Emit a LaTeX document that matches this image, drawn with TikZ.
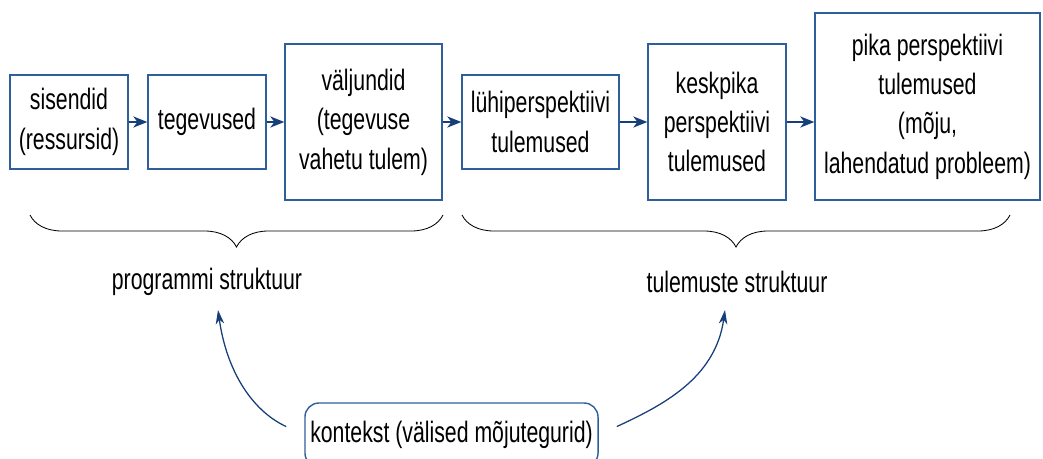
\documentclass[tikz,border=0pt]{standalone}
\usepackage{fontspec}
\setmainfont{Liberation Sans}[FakeStretch=0.72]
\usetikzlibrary{arrows.meta,decorations.pathreplacing}
\definecolor{boxblue}{RGB}{46,95,155}
\definecolor{arrowblue}{RGB}{22,62,120}
\begin{document}
\begin{tikzpicture}[
    x=0.025cm, y=-0.025cm,
    every node/.style={font=\fontsize{21}{28}\selectfont},
    box/.style={draw=boxblue, line width=1pt, align=center, inner sep=2pt},
    flow/.style={draw=arrowblue, line width=1pt, -{Stealth[length=10pt,width=8pt,inset=3pt]}},
    push/.style={draw=arrowblue, line width=0.9pt, -{Stealth[length=10pt,width=6pt,inset=3pt]}},
    sbrace/.style={decorate, decoration={brace, mirror, amplitude=0.8cm}, line width=0.6pt}
    ]
	\useasboundingbox (0,0) rectangle (1043,459);
	\clip (0,0) rectangle (1043,459);
	% program chain
	\node [box, minimum width=2.95cm, minimum height=2.35cm] (input) at (69,122) {sisendid\\(ressursid)};
	\node [box, minimum width=2.95cm, minimum height=2.35cm] (activ) at (207,122) {tegevused};
	\node [box, minimum width=3.925cm, minimum height=3.9cm] (output) at (363.5,122) {väljundid\\(tegevuse\\vahetu tulem)};
	% outcome chain
	\node [box, minimum width=3.925cm, minimum height=2.35cm] (short) at (540.5,122) {lühiperspektiivi\\tulemused};
	\node [box, minimum width=3.45cm, minimum height=3.9cm] (mid) at (717,122) {keskpika\\perspektiivi\\tulemused};
	\node [box, minimum width=5.625cm, minimum height=4.675cm] (long) at (927.5,106.5) {pika perspektiivi\\tulemused\\(mõju,\\lahendatud probleem)};
	\draw [flow] (input) -- (activ);
	\draw [flow] (activ) -- (output);
	\draw [flow] (output) -- (short);
	\draw [flow] (short) -- (mid);
	\draw [flow] (mid.east) -- (long.west |- mid.east);
	% braces
	\draw [sbrace] (30,215) -- (443,215);
	\draw [sbrace] (462,215) -- (1010,215);
	\node (prog) at (207,282) {programmi struktuur};
	\node (outc) at (737,282) {tulemuste struktuur};
	% context
	\node [box, rounded corners=10pt, minimum width=7.325cm, minimum height=1.6cm] (ctx) at (451.5,435) {kontekst (välised mõjutegurid)};
	\coordinate (progin) at (218,310);
	\coordinate (outcin) at (725,310);
	\draw [push, shorten <=0.5cm] (ctx.west) to[out=155, in=-82] (progin);
	\draw [push, shorten <=0.5cm] (ctx.east) to[out=25, in=-98] (outcin);
\end{tikzpicture}
\end{document}
